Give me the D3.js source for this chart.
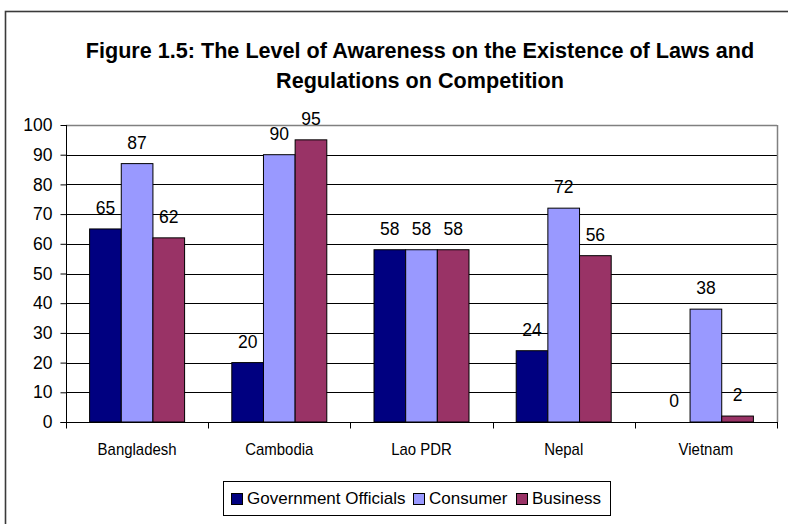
<!DOCTYPE html>
<html><head><meta charset="utf-8">
<script src="https://cdn.jsdelivr.net/npm/d3@7/dist/d3.min.js"></script>
<style>
html,body{margin:0;padding:0;background:#fff;}
svg{display:block;font-family:"Liberation Sans",Arial,sans-serif;}
</style></head>
<body>
<script>
const categories = ["Bangladesh", "Cambodia", "Lao PDR", "Nepal", "Vietnam"];
const seriesNames = ["Government Officials", "Consumer", "Business"];
const governmentOfficials = [65, 20, 58, 24, 0];
const consumer = [87, 90, 58, 72, 38];
const business = [62, 95, 58, 56, 2];
const yTicks = [0, 10, 20, 30, 40, 50, 60, 70, 80, 90, 100];
const titleLines = ["Figure 1.5: The Level of Awareness on the Existence of Laws and", "Regulations on Competition"];
const colors = ["#000080", "#9999FF", "#993366"];

const seriesValues = [governmentOfficials, consumer, business];
const W = 788, H = 524;
const svg = d3.select("body").append("svg").attr("width", W).attr("height", H);

// outer chart border
svg.append("rect").attr("x", 5.5).attr("y", 11.5).attr("width", 900).attr("height", 600)
  .attr("fill", "none").attr("stroke", "#3a3a3a").attr("stroke-width", 1.6);

// title
svg.append("text").attr("text-anchor", "middle")
  .attr("font-weight", "bold").attr("font-size", 21.6)
  .selectAll("tspan").data(titleLines).join("tspan")
  .attr("x", 420).attr("y", (d, i) => 58 + i * 30).text(d => d);

const plot = {left: 66, right: 777, top: 125, bottom: 422};
const x = d3.scaleBand().domain(categories).range([plot.left, plot.right]).paddingInner(0.332).paddingOuter(0.166);
const xs = d3.scaleBand().domain(seriesNames).range([0, x.bandwidth()]);
const y = d3.scaleLinear().domain([0, 100]).range([plot.bottom, plot.top]);

// gridlines
svg.append("g").selectAll("line").data(yTicks.filter(t => t > 0)).join("line")
  .attr("x1", plot.left).attr("x2", plot.right)
  .attr("y1", d => Math.round(y(d)) + 0.5).attr("y2", d => Math.round(y(d)) + 0.5)
  .attr("stroke", d => d === 100 ? "#808080" : "#000").attr("stroke-width", d => d === 100 ? 1.5 : 1);
// right border of plot
svg.append("line").attr("x1", plot.right + 0.5).attr("x2", plot.right + 0.5)
  .attr("y1", plot.top).attr("y2", plot.bottom).attr("stroke", "#808080").attr("stroke-width", 1.5);

// bars
const groups = svg.append("g").selectAll("g").data(categories).join("g")
  .attr("transform", d => `translate(${x(d)},0)`);
groups.selectAll("rect").data((c, ci) => seriesNames.map((s, si) => ({s, si, v: seriesValues[si][ci]})))
  .join("rect")
  .attr("x", d => xs(d.s)).attr("width", xs.bandwidth())
  .attr("y", d => y(d.v)).attr("height", d => y(0) - y(d.v))
  .attr("fill", d => colors[d.si]).attr("stroke", "#000").attr("stroke-width", 1);
groups.selectAll("text").data((c, ci) => seriesNames.map((s, si) => ({s, si, v: seriesValues[si][ci]})))
  .join("text")
  .attr("x", d => xs(d.s) + xs.bandwidth() / 2).attr("y", d => y(d.v) - 15)
  .attr("text-anchor", "middle").attr("font-size", 17.5).text(d => d.v);

// y axis
const yAxis = d3.axisLeft(y).tickValues(yTicks).tickSize(6).tickPadding(8);
const gy = svg.append("g").attr("transform", `translate(${plot.left + 0.5},0)`).call(yAxis);
gy.select(".domain").attr("stroke", "#000").attr("d", `M-6,${plot.bottom + 0.5}H0V${plot.top}`);
gy.selectAll(".tick line").attr("stroke", "#000");
gy.selectAll(".tick text").attr("font-size", 17.5).attr("font-family", "Liberation Sans, Arial, sans-serif").attr("fill", "#000");

// x axis
const gx = svg.append("g").attr("transform", `translate(0,${plot.bottom + 0.5})`);
gx.append("line").attr("x1", plot.left).attr("x2", plot.right + 1).attr("stroke", "#000");
const bounds = categories.map(c => x(c) - x.step() * x.paddingOuter()).concat([plot.right]);
gx.selectAll("line.tk").data(bounds).join("line").attr("class", "tk")
  .attr("x1", d => Math.round(d) + 0.5).attr("x2", d => Math.round(d) + 0.5).attr("y1", 0).attr("y2", 6).attr("stroke", "#000");
gx.selectAll("text").data(categories).join("text")
  .attr("x", d => x(d) + x.bandwidth() / 2).attr("y", 32)
  .attr("text-anchor", "middle").attr("font-size", 17)
  .text(d => d)
  .each(function() {
    const len = this.getComputedTextLength();
    d3.select(this).attr("textLength", len * 0.88).attr("lengthAdjust", "spacingAndGlyphs");
  });

// legend
const lg = svg.append("g");
lg.append("rect").attr("x", 223.5).attr("y", 481.5).attr("width", 387).attr("height", 34)
  .attr("fill", "#fff").attr("stroke", "#000");
const legendX = [231, 413, 516];
seriesNames.forEach((s, i) => {
  lg.append("rect").attr("x", legendX[i] + 0.5).attr("y", 493.5).attr("width", 11).attr("height", 11)
    .attr("fill", colors[i]).attr("stroke", "#000");
  lg.append("text").attr("x", legendX[i] + 16).attr("y", 504).attr("font-size", 17).text(s);
});
</script>
</body></html>
